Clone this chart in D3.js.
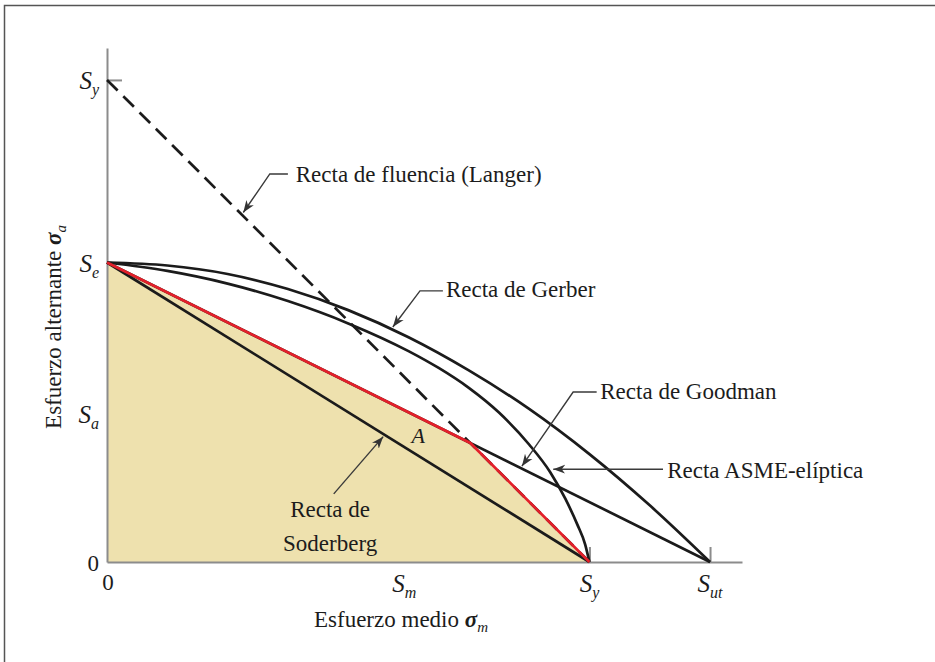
<!DOCTYPE html>
<html>
<head>
<meta charset="utf-8">
<script src="https://cdn.jsdelivr.net/npm/d3@7"></script>
<style>
  body { margin: 0; background: #fff; }
  text { font-family: "Liberation Serif", "Times New Roman", serif; fill: #1c1c1c; }
</style>
</head>
<body>
<div id="chart"></div>
<script>
// values (same unit on both axes, Sut = 100)
var Sut = 100, Syx = 80, Syy = 80, Se = 49.7, Sa = 24.6, Sm = 49.3;

var xTicks = [
  { base: "0", sub: "", v: 0 },
  { base: "S", sub: "m", v: Sm },
  { base: "S", sub: "y", v: Syx },
  { base: "S", sub: "ut", v: Sut }
];
var yTicks = [
  { base: "0", sub: "", v: 0 },
  { base: "S", sub: "a", v: Sa },
  { base: "S", sub: "e", v: Se },
  { base: "S", sub: "y", v: Syy }
];

// Gerber curve, points
var gerberM = [0, 10, 20, 30, 40, 50, 60, 70, 80, 90, 100];
var gerberA = [49.7, 49.2, 47.8, 45.3, 41.8, 37.3, 31.8, 25.4, 17.9, 9.4, 0];

// ASME-elliptic curve, points
var asmeM = [0, 10, 20, 30, 40, 50, 55, 60, 65, 70, 73.5, 76, 78, 79.3, 80];
var asmeA = [49.7, 48.3, 46.2, 43.3, 39.6, 35.0, 32.2, 28.9, 24.8, 19.5, 14.9, 10.5, 6.2, 2.9, 0];

var svgWidth = 935;
var svgHeight = 662;

var svg = d3.select("#chart")
  .append("svg")
  .attr("width", svgWidth)
  .attr("height", svgHeight);

// frame
svg.append("rect")
  .attr("x", 4.5).attr("y", 5.5)
  .attr("width", 1000).attr("height", 1000)
  .attr("fill", "none")
  .attr("stroke", "#555")
  .attr("stroke-width", 1.5);

var x = d3.scaleLinear().domain([0, 105.3]).range([107, 742]);
var y = d3.scaleLinear().domain([0, 85.3]).range([562, 48]);

// intersection of Goodman and Langer lines
var mA = (Syy - Se) / (Syy / Syx - Se / Sut);
var aA = Syy - (Syy / Syx) * mA;

var defs = svg.append("defs");
defs.append("marker")
  .attr("id", "arrow")
  .attr("viewBox", "-12 -5 13 10")
  .attr("refX", 0).attr("refY", 0)
  .attr("markerWidth", 13).attr("markerHeight", 10)
  .attr("markerUnits", "userSpaceOnUse")
  .attr("orient", "auto")
  .append("path")
  .attr("d", "M0,0 L-12,-4.5 L-8.5,0 L-12,4.5 Z")
  .attr("fill", "#333");

// safe region fill
svg.append("path")
  .datum([[0, 0], [0, Se], [mA, aA], [Syx, 0]])
  .attr("d", d3.line().x(d => x(d[0])).y(d => y(d[1])))
  .attr("fill", "#eee1ae")
  .attr("stroke", "none");

// axes
var xAxis = d3.axisBottom(x).tickValues([Syx, Sut]).tickSizeInner(-15).tickSizeOuter(0).tickFormat("");
var yAxis = d3.axisLeft(y).tickValues([Syy]).tickSizeInner(-15).tickSizeOuter(0).tickFormat("");

svg.append("g")
  .attr("transform", `translate(0, ${y(0)})`)
  .call(xAxis)
  .call(g => g.selectAll("path, line").attr("stroke", "#8c8c8c").attr("stroke-width", 2));
svg.append("g")
  .attr("transform", `translate(${x(0)}, 0)`)
  .call(yAxis)
  .call(g => g.selectAll("path, line").attr("stroke", "#8c8c8c").attr("stroke-width", 2));

// tick labels
function tickText(sel) {
  sel.append("tspan")
    .attr("font-style", d => d.sub ? "italic" : "normal")
    .attr("font-size", d => d.sub ? 25 : 23)
    .text(d => d.base);
  sel.filter(d => d.sub).append("tspan")
    .attr("font-style", "italic")
    .attr("font-size", 16)
    .attr("dy", 6)
    .text(d => d.sub);
}
svg.selectAll(".xlab")
  .data(xTicks)
  .enter()
  .append("text")
  .attr("class", "xlab")
  .attr("x", d => x(d.v) + (d.sub ? 0 : 1))
  .attr("y", d => d.sub ? 592 : 590)
  .attr("text-anchor", "middle")
  .call(tickText);

svg.selectAll(".ylab")
  .data(yTicks)
  .enter()
  .append("text")
  .attr("class", "ylab")
  .attr("x", 99)
  .attr("y", d => y(d.v) + 9)
  .attr("text-anchor", "end")
  .call(tickText);

// axis titles
var xt = svg.append("text")
  .attr("x", 401).attr("y", 627)
  .attr("text-anchor", "middle")
  .attr("font-size", 23);
xt.append("tspan").text("Esfuerzo medio ");
xt.append("tspan").attr("font-style", "italic").attr("font-weight", "bold").text("σ");
xt.append("tspan").attr("font-style", "italic").attr("font-size", 15).attr("dy", 5).text("m");

var yt = svg.append("text")
  .attr("transform", "translate(61, 327) rotate(-90)")
  .attr("text-anchor", "middle")
  .attr("font-size", 23);
yt.append("tspan").text("Esfuerzo alternante ");
yt.append("tspan").attr("font-style", "italic").attr("font-weight", "bold").text("σ");
yt.append("tspan").attr("font-style", "italic").attr("font-size", 15).attr("dy", 5).text("a");

// criteria
var line = d3.line().x(d => x(d[0])).y(d => y(d[1]));
var curve = d3.line().x(d => x(d[0])).y(d => y(d[1])).curve(d3.curveMonotoneX);

var black = "#1b1b1b";
svg.append("path")
  .datum([[0, Syy], [Syx, 0]])
  .attr("d", line)
  .attr("fill", "none").attr("stroke", black)
  .attr("stroke-width", 2.7).attr("stroke-dasharray", "15,8");

svg.append("path")
  .datum([[0, Se], [Syx, 0]])
  .attr("d", line)
  .attr("fill", "none").attr("stroke", black).attr("stroke-width", 2.7);

svg.append("path")
  .datum([[0, Se], [Sut, 0]])
  .attr("d", line)
  .attr("fill", "none").attr("stroke", black).attr("stroke-width", 2.7);

svg.append("path")
  .datum(gerberM.map((m, i) => [m, gerberA[i]]))
  .attr("d", curve)
  .attr("fill", "none").attr("stroke", black).attr("stroke-width", 2.7);

svg.append("path")
  .datum(asmeM.map((m, i) => [m, asmeA[i]]))
  .attr("d", curve)
  .attr("fill", "none").attr("stroke", black).attr("stroke-width", 2.7);

svg.append("path")
  .datum([[0, Se], [mA, aA], [Syx, 0]])
  .attr("d", line)
  .attr("fill", "none").attr("stroke", "#e3202a").attr("stroke-width", 2.7)
  .attr("stroke-linejoin", "miter");

// point A
svg.append("text")
  .attr("x", x(51.6)).attr("y", y(19.75))
  .attr("text-anchor", "middle")
  .attr("font-size", 22).attr("font-style", "italic")
  .text("A");

// callouts (leader points in chart units, last point is the arrow tip)
var callouts = [
  { text: ["Recta de fluencia (Langer)"], at: [31.3, 63.1], anchor: "start", leader: [[30.0, 64.4], [27.0, 64.4], [22.6, 58.0]] },
  { text: ["Recta de Gerber"], at: [56.2, 44.0], anchor: "start", leader: [[55.7, 45.0], [51.9, 45.0], [47.4, 39.0]] },
  { text: ["Recta de Goodman"], at: [81.8, 27.1], anchor: "start", leader: [[81.2, 28.2], [77.3, 28.2], [68.8, 15.9]] },
  { text: ["Recta ASME-elíptica"], at: [92.9, 13.9], anchor: "start", leader: [[92.2, 15.4], [74.0, 15.4]] },
  { text: ["Recta de", "Soderberg"], at: [37.0, 7.4], anchor: "middle", leader: [[37.6, 11.3], [45.8, 20.8]] }
];

callouts.forEach(function(c) {
  svg.append("path")
    .datum(c.leader)
    .attr("d", line)
    .attr("fill", "none")
    .attr("stroke", "#3a3a3a")
    .attr("stroke-width", 1.4)
    .attr("marker-end", "url(#arrow)");
  svg.append("text")
    .attr("x", x(c.at[0]))
    .attr("y", y(c.at[1]))
    .attr("text-anchor", c.anchor)
    .attr("font-size", 23)
    .selectAll("tspan")
    .data(c.text)
    .enter()
    .append("tspan")
    .attr("x", x(c.at[0]))
    .attr("dy", (d, i) => i === 0 ? 0 : 34)
    .text(d => d);
});
</script>
</body>
</html>
